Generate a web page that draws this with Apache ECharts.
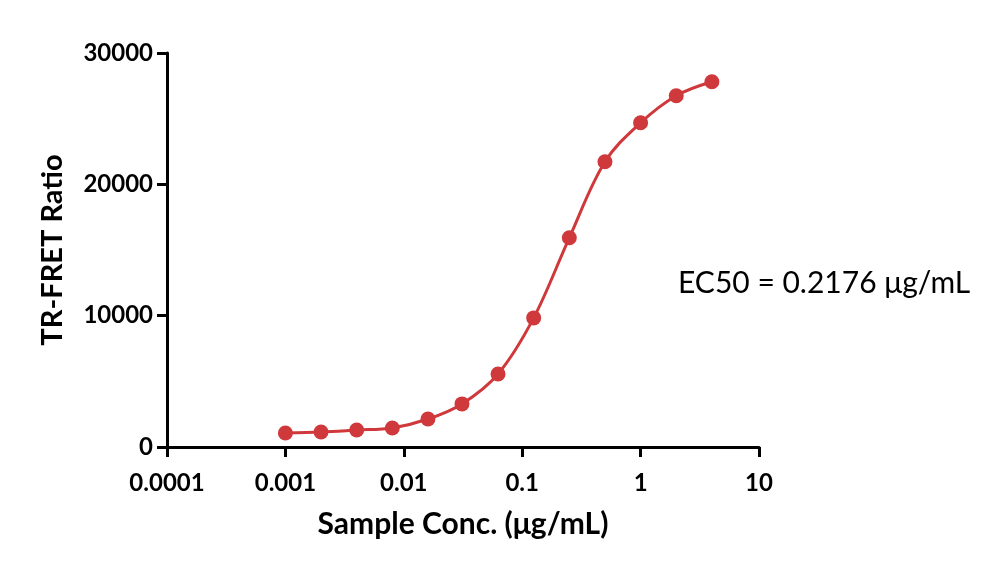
<!DOCTYPE html>
<html>
<head>
<meta charset="utf-8">
<script src="https://cdn.jsdelivr.net/npm/echarts@6/dist/echarts.min.js"></script>
<style>
  html, body { margin: 0; padding: 0; background: #fff; }
  #main { width: 1000px; height: 573px; }
</style>
</head>
<body>
<div id="main"></div>
<script>
// concentrations (ug/mL), two-fold dilution series
var conc = [0.001, 0.002, 0.004, 0.008, 0.016, 0.031, 0.0625, 0.125, 0.25, 0.5, 1, 2, 4];
// TR-FRET ratio
var ratio = [1070, 1140, 1290, 1450, 2130, 3280, 5560, 9830, 15930, 21720, 24690, 26750, 27810];
var xTickLabels = ['0.0001', '0.001', '0.01', '0.1', '1', '10'];
var yTickLabels = ['0', '10000', '20000', '30000'];
var ec50Text = 'EC50 = 0.2176 μg/mL';

var red = '#d0393b';
var font = 'Lato, "Open Sans", sans-serif';

var chart = echarts.init(document.getElementById('main'));

var points = [];
for (var i = 0; i < conc.length; i++) {
    points.push([conc[i], ratio[i]]);
}

var option = {
    animation: false,
    backgroundColor: '#fff',
    grid: { left: 167, right: 241, top: 53, bottom: 126 },
    xAxis: {
        type: 'log',
        logBase: 10,
        min: 0.0001,
        max: 10,
        name: 'Sample Conc. (μg/mL)',
        nameLocation: 'middle',
        nameGap: 62,
        nameTextStyle: { fontFamily: font, fontWeight: 'bold', fontSize: 30, color: '#000' },
        axisLine: { lineStyle: { color: '#000', width: 3 } },
        axisTick: { show: true, length: 10, lineStyle: { color: '#000', width: 3 } },
        axisLabel: {
            fontFamily: font, fontWeight: 'bold', fontSize: 24, color: '#000', margin: 24,
            formatter: function (v) {
                var k = Math.round(Math.log10(v)) + 4;
                return xTickLabels[k] !== undefined ? xTickLabels[k] : '';
            }
        },
        splitLine: { show: false },
        minorTick: { show: false }
    },
    yAxis: {
        type: 'value',
        min: 0,
        max: 30000,
        interval: 10000,
        name: 'TR-FRET Ratio',
        nameLocation: 'middle',
        nameGap: 100,
        nameTextStyle: { fontFamily: font, fontWeight: 'bold', fontSize: 29, color: '#000' },
        axisLine: { show: true, lineStyle: { color: '#000', width: 3 } },
        axisTick: { show: true, length: 10, lineStyle: { color: '#000', width: 3 } },
        axisLabel: {
            fontFamily: font, fontWeight: 'bold', fontSize: 24, color: '#000', margin: 14,
            formatter: function (v) { return yTickLabels[Math.round(v / 10000)]; }
        },
        splitLine: { show: false }
    },
    series: [{
        type: 'line',
        data: points,
        smooth: 0.35,
        symbol: 'circle',
        symbolSize: 15,
        itemStyle: { color: red },
        lineStyle: { color: red, width: 3 }
    }],
    graphic: [{
        type: 'text',
        left: 678,
        top: 268,
        style: { text: ec50Text, fontFamily: font, fontSize: 30, fill: '#000' }
    }]
};

chart.setOption(option);
</script>
</body>
</html>
